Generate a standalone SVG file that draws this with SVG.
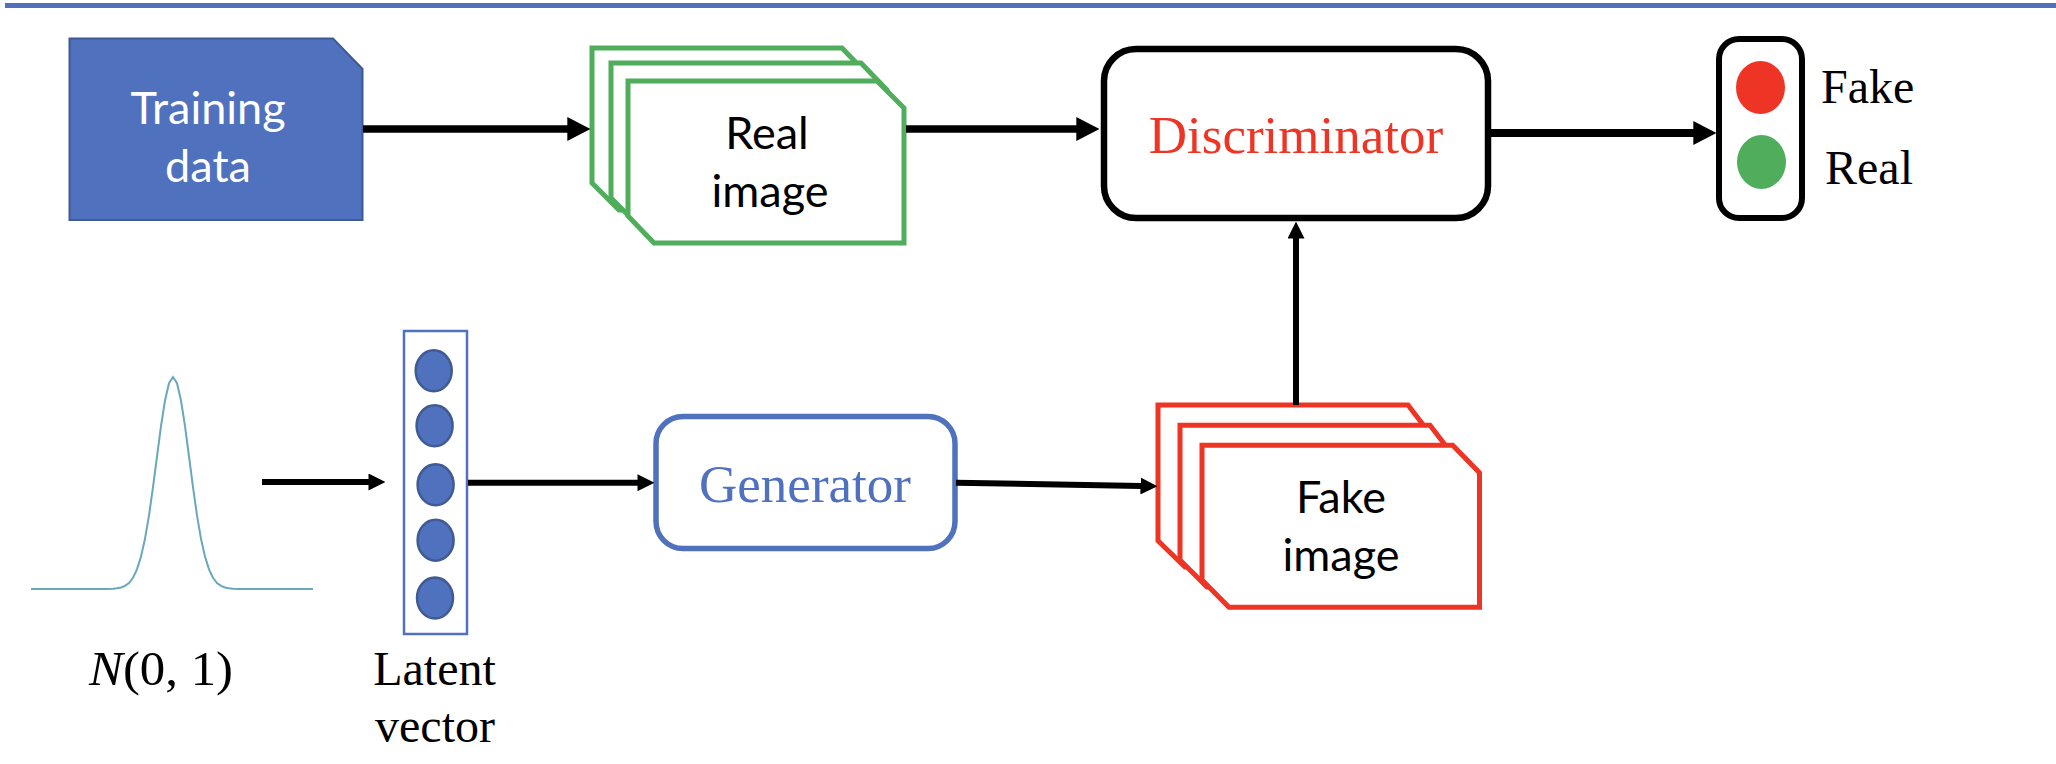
<svg xmlns="http://www.w3.org/2000/svg" width="2056" height="764" viewBox="0 0 2056 764">
<defs>
<style>
.serif{font-family:"Liberation Serif","Times New Roman",serif}
.sans{font-family:Lato,"Noto Sans",sans-serif;font-size:45px;text-anchor:middle}
.mid{text-anchor:middle}
.green{fill:#fff;stroke:#4fad5b;stroke-width:5}
.red{fill:#fff;stroke:#ee3424;stroke-width:5}
.dot{fill:#4f71be;stroke:#3f5a94;stroke-width:2.500}
.conn{fill:none;stroke:#000}
</style>
<marker id="headL" viewBox="0 0 10 10" refX="0.3" refY="5" markerUnits="userSpaceOnUse" markerWidth="23" markerHeight="24" orient="auto" preserveAspectRatio="none"><path d="M0 0L10 5L0 10Z" fill="#000"/></marker>
<marker id="headS" viewBox="0 0 10 10" refX="0.3" refY="5" markerUnits="userSpaceOnUse" markerWidth="17" markerHeight="17" orient="auto" preserveAspectRatio="none"><path d="M0 0L10 5L0 10Z" fill="#000"/></marker>
</defs>
<rect width="2056" height="764" fill="#fff"/>
<rect id="top-rule" x="5" y="3" width="2051" height="5" fill="#4f71be"/>
<g id="training-data">
<path d="M69.500 38.500H333L362.500 69V220H69.500Z" fill="#4f71be" stroke="#3f5a94" stroke-width="2"/>
<text class="sans" x="208" y="124" fill="#fff">Training</text>
<text class="sans" x="208" y="182" fill="#fff">data</text>
</g>
<g id="real-image">
<path class="green" d="M592 48H842L868 75V210H619L592 183Z"/>
<path class="green" d="M611 63H861L887 90V225H638L611 198Z"/>
<path class="green" d="M628 81H877L904 108V243H654L628 216Z"/>
<text class="sans" x="767" y="149" fill="#000">Real</text>
<text class="sans" x="770" y="207" fill="#000">image</text>
</g>
<g id="discriminator">
<rect x="1104" y="49" width="384" height="169" rx="32" fill="#fff" stroke="#000" stroke-width="6.500"/>
<text class="serif mid" x="1296" y="153" font-size="53" fill="#ee3424">Discriminator</text>
</g>
<g id="output">
<rect x="1719" y="39" width="83" height="179" rx="20" fill="#fff" stroke="#000" stroke-width="6"/>
<ellipse cx="1760.500" cy="87.500" rx="24.500" ry="26.500" fill="#ee3424"/>
<ellipse cx="1761.500" cy="162" rx="24.500" ry="27" fill="#4fad5b"/>
<text class="serif" x="1821" y="103" font-size="48" fill="#000">Fake</text>
<text class="serif" x="1825" y="184" font-size="48" fill="#000">Real</text>
</g>
<g id="noise">
<polyline fill="none" stroke="#6aa7bb" stroke-width="2" points="31,589 107,589 113,588.700 117,588.300 121,587.500 125,585.900 129,583 133,577.800 137,569.400 141,556.600 145,538.800 149,515.400 153,487.200 157,456.500 161,426.200 165,400.500 169,383.200 173,377 177,383.200 181,400.500 185,426.200 189,456.500 193,487.200 197,515.400 201,538.800 205,556.600 209,569.400 213,577.800 217,583 221,585.900 225,587.500 229,588.300 233,588.700 239,589 313,589"/>
<text class="serif" x="89" y="685" font-size="48" fill="#000" textLength="144" lengthAdjust="spacingAndGlyphs"><tspan font-style="italic">N</tspan>(0, 1)</text>
</g>
<g id="latent-vector">
<rect x="404" y="331" width="63" height="303" fill="#fff" stroke="#4f71be" stroke-width="2.500"/>
<ellipse class="dot" cx="433.700" cy="370.800" rx="18" ry="20.500"/>
<ellipse class="dot" cx="434.600" cy="425.800" rx="18" ry="20.500"/>
<ellipse class="dot" cx="435.600" cy="484.800" rx="18" ry="20.500"/>
<ellipse class="dot" cx="435.600" cy="540.200" rx="18" ry="20.500"/>
<ellipse class="dot" cx="435" cy="598" rx="18" ry="20.500"/>
<text class="serif mid" x="434.500" y="685" font-size="48" fill="#000">Latent</text>
<text class="serif mid" x="435" y="741.700" font-size="48" fill="#000">vector</text>
</g>
<g id="generator">
<rect x="656" y="416.500" width="299" height="132" rx="27" fill="#fff" stroke="#4f71be" stroke-width="5.500"/>
<text class="serif mid" x="805" y="501.700" font-size="53" fill="#4f71be">Generator</text>
</g>
<g id="fake-image">
<path class="red" d="M1158 405H1408L1435.500 441V567H1185L1158 540.700Z"/>
<path class="red" d="M1180 425.300H1430L1457.500 461V587H1207L1180 560Z"/>
<path class="red" d="M1202 445.300H1452.700L1479.500 472.700V607.300H1229L1202 580Z"/>
<text class="sans" x="1341" y="513" fill="#000">Fake</text>
<text class="sans" x="1341" y="570.700" fill="#000">image</text>
</g>
<g id="connectors">
<path class="conn" stroke-width="7.500" d="M363 129H568" marker-end="url(#headL)"/>
<path class="conn" stroke-width="7.500" d="M906 129H1077" marker-end="url(#headL)"/>
<path class="conn" stroke-width="8" d="M1491 133H1694" marker-end="url(#headL)"/>
<path class="conn" stroke-width="6" d="M1296 405V238" marker-end="url(#headS)"/>
<path class="conn" stroke-width="6" d="M262 482H369" marker-end="url(#headS)"/>
<path class="conn" stroke-width="6" d="M468 482.700H638" marker-end="url(#headS)"/>
<path class="conn" stroke-width="6" d="M956 482.700L1141 486" marker-end="url(#headS)"/>
</g>
</svg>
